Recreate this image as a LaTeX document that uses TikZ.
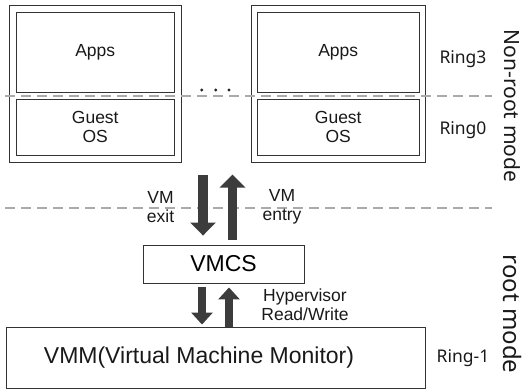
\documentclass[tikz,border=0pt]{standalone}
\usepackage{fontspec}
\setmainfont{Liberation Sans}
\newfontfamily\ringfont{Noto Sans}
\usetikzlibrary{arrows.meta}

\definecolor{boxline}{HTML}{333333}
\definecolor{arrowgray}{HTML}{3C3C3C}
\definecolor{modeline}{HTML}{AAAAAA}

\tikzset{
  box/.style={draw=boxline, line width=0.9pt, inner sep=0pt},
  label/.style={font=\fontsize{17.5}{19}\selectfont, align=center, text=black!90},
  ring/.style={font=\ringfont\fontsize{17.5}{20}\selectfont, text=black!90},
  modeline/.style={draw=modeline, line width=1.6pt, dash pattern=on 10pt off 6pt},
  bigarrow/.style={draw=arrowgray, line width=9.5pt, -{Triangle[width=25pt,length=13pt]}},
  smallarrow/.style={draw=arrowgray, line width=8.5pt, -{Triangle[width=21pt,length=12pt]}}
}

\begin{document}
\begin{tikzpicture}[x=1pt, y=-1pt]
  \useasboundingbox (0,0) rectangle (522,390);

  % Guest machines
  \node[box, minimum width=172pt, minimum height=157pt] (vmL) at (95.5,83.5) {};
  \node[box, minimum width=158.5pt, minimum height=80.5pt, label] (appsL) at (95.25,52.25) {Apps};
  \node[box, minimum width=158.5pt, minimum height=55.5pt, label] (osL) at (95.25,127.25) {Guest\\OS};

  \node[box, minimum width=174.5pt, minimum height=157pt] (vmR) at (338.25,83.5) {};
  \node[box, minimum width=161.5pt, minimum height=80.5pt, label] (appsR) at (338.25,52.25) {Apps};
  \node[box, minimum width=161.5pt, minimum height=55.5pt, label] (osR) at (338.25,127.25) {Guest\\OS};

  % dots between the machines
  \foreach \x in {201.7,215.7,229} \fill[black!85] (\x,90) circle (1.6pt);

  % Mode boundaries
  \coordinate (ringL) at (5,96);
  \coordinate (ringR) at (492,96);
  \coordinate (modeL) at (5,208);
  \coordinate (modeR) at (492,208);
  \draw[modeline] (ringL) -- (ringR);
  \draw[modeline] (modeL) -- (modeR);

  % VMCS and VMM
  \node[box, minimum width=161pt, minimum height=38pt, font=\fontsize{23}{26}\selectfont] (vmcs) at (223.5,264) {VMCS};
  \node[box, minimum width=419pt, minimum height=61.5pt] (vmm) at (216,357.75) {};
  \node[font=\fontsize{23}{26}\selectfont, text=black!90] (vmmText) at (199,357.75) {VMM(Virtual Machine Monitor)};

  % Transitions
  \draw[bigarrow] ([xshift=-20.5pt,yshift=70pt]vmcs.north) -- ([xshift=-20.5pt,yshift=9pt]vmcs.north);
  \draw[bigarrow] ([xshift=9pt,yshift=5pt]vmcs.north) -- ([xshift=9pt,yshift=70pt]vmcs.north);
  \draw[smallarrow] ([xshift=-21.5pt,yshift=-4pt]vmcs.south) -- ([xshift=-21.5pt,yshift=2pt]vmcs.south |- vmm.north);
  \draw[smallarrow] ([xshift=5.5pt]vmcs.south |- vmm.north) -- ([xshift=5.5pt,yshift=-4pt]vmcs.south);

  \node[label] (exit) at (160.5,207) {VM\\exit};
  \node[label] (entry) at (282,207) {VM\\entry};
  \node[label] (rw) at (305,305) {Hypervisor\\Read/Write};

  % Privilege rings
  \node[ring] (ring3) at (463,59) {Ring3};
  \node[ring] (ring0) at (463,130) {Ring0};
  \node[ring] (ringm1) at (463,358) {Ring-1};

  \node[rotate=-90, font=\ringfont\fontsize{21}{24}\selectfont, text=black!90] (nonroot) at (512,106) {Non-root mode};
  \node[rotate=-90, font=\ringfont\fontsize{24}{27}\selectfont, text=black!90] (root) at (512,314) {root mode};
\end{tikzpicture}
\end{document}
